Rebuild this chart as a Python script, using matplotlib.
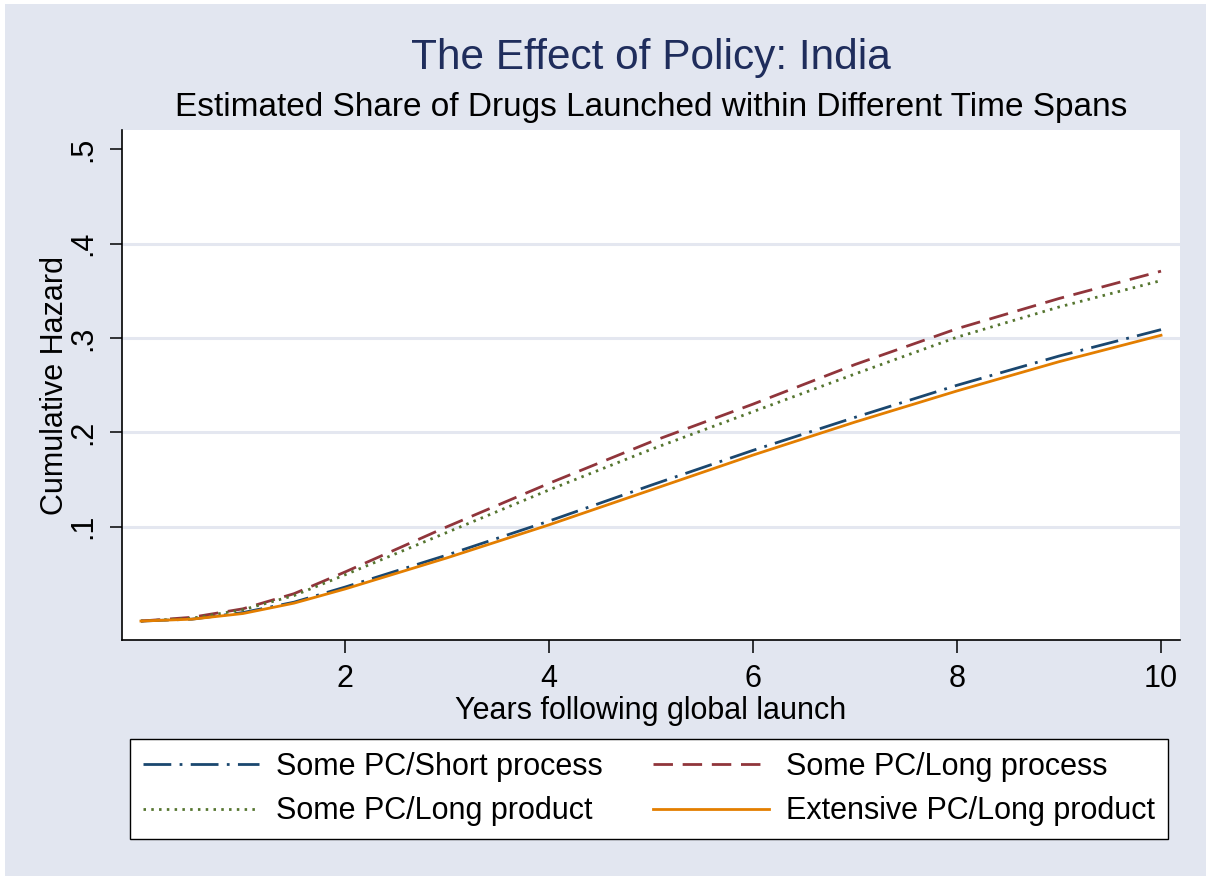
import numpy as np
import matplotlib
matplotlib.use("Agg")
import matplotlib.pyplot as plt
from matplotlib.patches import Rectangle

plt.rcParams['font.family'] = ['Liberation Sans', 'DejaVu Sans']

# years following global launch
years = [0, 0.5, 1, 1.5, 2, 3, 4, 5, 6, 7, 8, 9, 10]

# cumulative hazard
short_process = [0, 0.002, 0.009, 0.020, 0.036, 0.070, 0.106, 0.144, 0.181, 0.216, 0.250, 0.281, 0.309]
long_process = [0, 0.004, 0.013, 0.029, 0.052, 0.100, 0.146, 0.190, 0.230, 0.272, 0.310, 0.342, 0.371]
long_product = [0, 0.003, 0.012, 0.027, 0.049, 0.094, 0.139, 0.182, 0.222, 0.262, 0.301, 0.333, 0.361]
ext_long_product = [0, 0.002, 0.008, 0.019, 0.034, 0.067, 0.102, 0.139, 0.176, 0.211, 0.244, 0.275, 0.303]

labels = ["Some PC/Short process", "Some PC/Long process",
          "Some PC/Long product", "Extensive PC/Long product"]
yticks = [0.1, 0.2, 0.3, 0.4, 0.5]
ytick_labels = [".1", ".2", ".3", ".4", ".5"]
grid_levels = [0.1, 0.2, 0.3, 0.4]
xticks = [2, 4, 6, 8, 10]

bg = "#e2e6f0"
navy = "#1a476f"
maroon = "#90353b"
green = "#55752f"
orange = "#e37e00"

fig = plt.figure(figsize=(12.11, 8.8), dpi=100, facecolor="white")
fig.patches.append(Rectangle((0.004, 0.004), 0.992, 0.992, transform=fig.transFigure,
                             facecolor=bg, edgecolor="none", zorder=-10))

ax = fig.add_axes([0.1007, 0.2727, 0.8737, 0.5795])
ax.set_facecolor("white")

for g in grid_levels:
    ax.axhline(g, color="#e4e7f0", lw=2.2, zorder=0)

lw = 2.0
h0, = ax.plot(years, short_process, color=navy, lw=lw, dashes=(10, 3, 1, 3), label=labels[0])
h1, = ax.plot(years, long_process, color=maroon, lw=lw, dashes=(7, 3.5), label=labels[1])
h2, = ax.plot(years, long_product, color=green, lw=lw, dashes=(0.9, 1.9), label=labels[2])
h3, = ax.plot(years, ext_long_product, color=orange, lw=lw, label=labels[3])

ax.set_xlim(-0.186, 10.186)
ax.set_ylim(-0.0201, 0.5206)
ax.set_xticks(xticks)
ax.set_yticks(yticks)
ax.set_yticklabels(ytick_labels, rotation=90, va="center")
ax.tick_params(axis="both", length=9, width=1.1, labelsize=22, pad=8)
for s in ["top", "right"]:
    ax.spines[s].set_visible(False)
for s in ["left", "bottom"]:
    ax.spines[s].set_linewidth(1.2)

ax.set_xlabel("Years following global launch", fontsize=22, labelpad=1.5)
ax.set_ylabel("Cumulative Hazard", fontsize=22, labelpad=-1)

fig.text(0.5376, 0.934, "The Effect of Policy: India", ha="center", va="center",
         fontsize=30.5, color="#1f2d5c")
fig.text(0.5376, 0.878, "Estimated Share of Drugs Launched within Different Time Spans",
         ha="center", va="center", fontsize=24, color="black")

# row-wise legend order, as in the original
leg = fig.legend([h0, h2, h1, h3], [labels[0], labels[2], labels[1], labels[3]],
                 loc="lower left", bbox_to_anchor=(0.1073, 0.0465, 0.857, 0.1136),
                 mode="expand", ncol=2, fontsize=22, frameon=True, fancybox=False,
                 framealpha=1, handlelength=3.8, handletextpad=0.55, borderaxespad=0,
                 labelspacing=0.48, borderpad=0.42)
leg.get_frame().set_edgecolor("black")
leg.get_frame().set_linewidth(1.0)

fig.savefig("out.png", dpi=100, facecolor="white")
